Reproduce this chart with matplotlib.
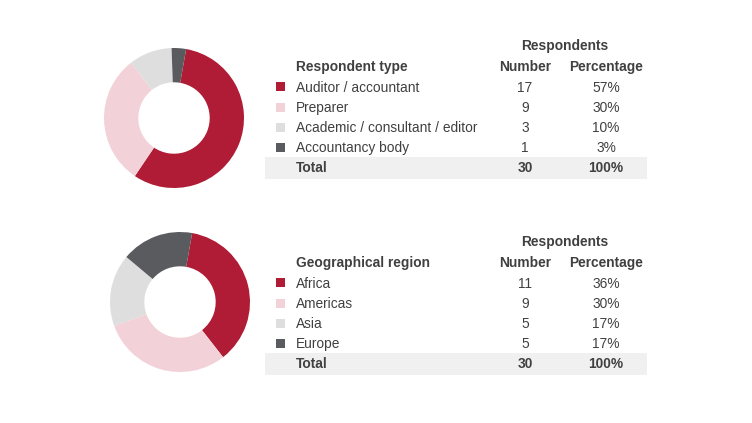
import matplotlib
matplotlib.use('Agg')
import matplotlib.pyplot as plt
from matplotlib.patches import Rectangle

plt.rcParams['font.family'] = ['Liberation Sans', 'DejaVu Sans']

# data
type_labels = ['Auditor / accountant', 'Preparer', 'Academic / consultant / editor', 'Accountancy body']
type_counts = [17, 9, 3, 1]
type_pcts = ['57%', '30%', '10%', '3%']

region_labels = ['Africa', 'Americas', 'Asia', 'Europe']
region_counts = [11, 9, 5, 5]
region_pcts = ['36%', '30%', '17%', '17%']

colors = ['#B01C36', '#F2D2D8', '#DEDEDE', '#5A5B5E']
txt = '#404040'

W, H = 752, 423
fig = plt.figure(figsize=(W / 100, H / 100), dpi=100)
fig.patch.set_facecolor('white')

# full-figure axes in pixel units for the tables
tab = fig.add_axes([0, 0, 1, 1])
tab.set_xlim(0, W)
tab.set_ylim(H, 0)
tab.axis('off')


def donut(cx, cy, r, values):
    ax = fig.add_axes([(cx - r) / W, (H - cy - r) / H, 2 * r / W, 2 * r / H])
    ax.pie(values, colors=colors, startangle=80, counterclock=False,
           wedgeprops=dict(width=0.49, linewidth=0))
    ax.set_xlim(-1, 1)
    ax.set_ylim(-1, 1)
    ax.set_aspect('equal')


def table(y0, title, labels, counts, pcts):
    fs = 9.9
    tab.text(565, y0, 'Respondents', ha='center', va='center', fontsize=fs,
             fontweight='bold', color=txt)
    tab.text(296, y0 + 21, title, ha='left', va='center', fontsize=fs,
             fontweight='bold', color=txt)
    tab.text(525, y0 + 21, 'Number', ha='center', va='center', fontsize=fs,
             fontweight='bold', color=txt)
    tab.text(606, y0 + 21, 'Percentage', ha='center', va='center', fontsize=fs,
             fontweight='bold', color=txt)
    for i, (lab, n, p) in enumerate(zip(labels, counts, pcts)):
        y = y0 + 41 + i * 20.3
        tab.add_patch(Rectangle((276, y - 4.5), 9, 9, color=colors[i], lw=0))
        tab.text(296, y + 0.5, lab, ha='left', va='center', fontsize=fs, color=txt)
        tab.text(525, y + 0.5, str(n), ha='center', va='center', fontsize=fs, color=txt)
        tab.text(606, y + 0.5, p, ha='center', va='center', fontsize=fs, color=txt)
    yt = y0 + 122
    tab.add_patch(Rectangle((265, yt - 11), 382, 22, color='#F0F0F0', lw=0))
    tab.text(296, yt, 'Total', ha='left', va='center', fontsize=fs,
             fontweight='bold', color=txt)
    tab.text(525, yt, str(sum(counts)), ha='center', va='center', fontsize=fs,
             fontweight='bold', color=txt)
    tab.text(606, yt, '100%', ha='center', va='center', fontsize=fs,
             fontweight='bold', color=txt)


donut(174, 118, 70, type_counts)
table(46, 'Respondent type', type_labels, type_counts, type_pcts)

donut(180, 302, 70, region_counts)
table(242, 'Geographical region', region_labels, region_counts, region_pcts)

fig.savefig('out.png', dpi=100, facecolor='white')
